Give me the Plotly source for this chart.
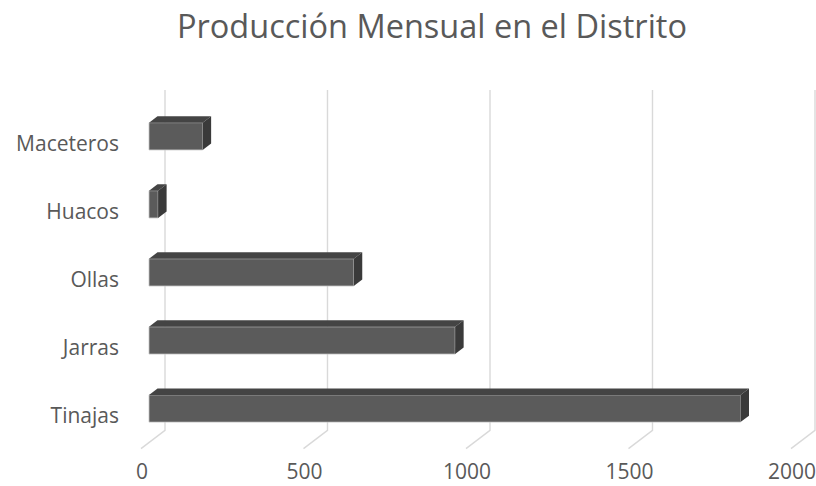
import plotly.graph_objects as go

# ---- data ----
categories = ["Tinajas", "Jarras", "Ollas", "Huacos", "Maceteros"]
values = [1820, 942, 630, 28, 165]
x_ticks = [0, 500, 1000, 1500, 2000]
title_text = "Producción Mensual en el Distrito"

# ---- layout geometry ----
W, H = 816, 486
ML, MR, MT, MB = 122, 0, 80, 34
PX_PER_UNIT = 0.325     # px per value unit
PX_PER_CAT = 68.05      # px per category step
X0_PX = 149.0           # pixel of value 0 on bar-front plane
C0_PX = 408.5           # pixel of first category centre
SLOPE = 0.7625          # depth: dy = -SLOPE*dx (pixels)
BACK_DX, FRONT_DX, BAR_DX = 16.0, -8.0, 8.5
WALL_TOP, FLOOR = 4.5, -0.5
BAR_W = 0.4

plot_w = W - ML - MR
plot_h = H - MT - MB
xmin = (ML - X0_PX) / PX_PER_UNIT
xmax = xmin + plot_w / PX_PER_UNIT
ymax = (C0_PX - MT) / PX_PER_CAT
ymin = ymax - plot_h / PX_PER_CAT


def depth(dx_px):
    """convert a pixel depth offset into data-unit offsets"""
    dy_px = -SLOPE * dx_px
    return dx_px / PX_PER_UNIT, -dy_px / PX_PER_CAT


TEXT = "#595959"
GRID = "#d9d9d9"
FRONT_C = "#5b5b5b"
TOP_C = "#444444"
SIDE_C = "#3a3a3a"
FONT = "Open Sans"

pos = list(range(len(categories)))

fig = go.Figure()

# front faces of the bars
fig.add_trace(go.Bar(
    x=values, y=pos, orientation="h", width=BAR_W,
    marker=dict(color=FRONT_C, line=dict(color="#c4c4c4", width=0.8)),
    hoverinfo="skip", showlegend=False,
))

# top and side faces
bx, by = depth(BAR_DX)
for c, v in zip(pos, values):
    top = c + BAR_W / 2
    bot = c - BAR_W / 2
    fig.add_trace(go.Scatter(
        x=[0, v, v + bx, bx, 0], y=[top, top, top + by, top + by, top],
        mode="lines", fill="toself", fillcolor=TOP_C,
        line=dict(width=0, color=TOP_C), hoverinfo="skip", showlegend=False,
    ))
    fig.add_trace(go.Scatter(
        x=[v, v + bx, v + bx, v, v], y=[top, top + by, bot + by, bot, top],
        mode="lines", fill="toself", fillcolor=SIDE_C,
        line=dict(width=0, color=SIDE_C), hoverinfo="skip", showlegend=False,
    ))

# 3D gridlines: back wall vertical + floor slant
gx_b, gy_b = depth(BACK_DX)
gx_f, gy_f = depth(FRONT_DX)
shapes = []
for t in x_ticks:
    path = (f"M {t + gx_b},{WALL_TOP + gy_b} L {t + gx_b},{FLOOR + gy_b} "
            f"L {t + gx_f},{FLOOR + gy_f}")
    shapes.append(dict(type="path", path=path, xref="x", yref="y",
                       line=dict(color=GRID, width=1.4), layer="below"))

fig.update_layout(
    width=W, height=H,
    margin=dict(l=ML, r=MR, t=MT, b=MB, pad=0, autoexpand=False),
    paper_bgcolor="white", plot_bgcolor="white",
    title=dict(text=title_text, x=432 / W, xref="container", xanchor="center",
               y=1 - 27 / H, yref="container", yanchor="middle",
               font=dict(family=FONT, size=32.5, color=TEXT)),
    xaxis=dict(range=[xmin, xmax], tickvals=x_ticks, showgrid=False,
               zeroline=False, showline=False, ticks="", automargin=False,
               tickfont=dict(family=FONT, size=21, color=TEXT),
               ticklabelshift=-7, ticklabelstandoff=5,
               ticklabeloverflow="allow"),
    yaxis=dict(range=[ymin, ymax], tickvals=pos, ticktext=categories,
               showgrid=False, zeroline=False, showline=False, ticks="",
               automargin=False,
               tickfont=dict(family=FONT, size=21, color=TEXT),
               ticklabelshift=7, ticklabelstandoff=2),
    shapes=shapes,
    showlegend=False,
    hovermode=False,
)

fig.write_html("out.html")
